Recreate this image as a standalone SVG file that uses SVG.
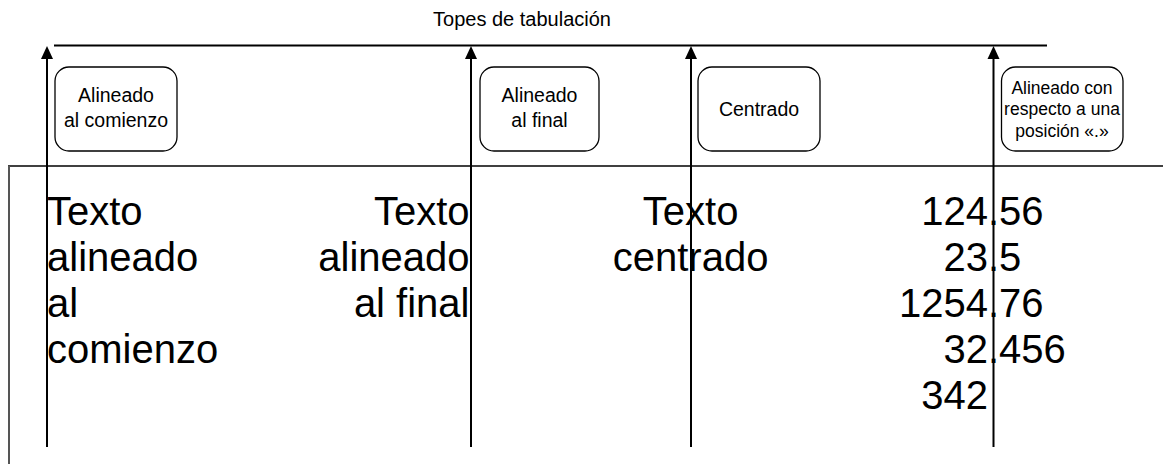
<svg xmlns="http://www.w3.org/2000/svg" width="1163" height="464" viewBox="0 0 1163 464">
<style>
text { font-family: "Liberation Sans", Arial, sans-serif; fill: #000; }
.title { font-size: 20px; }
.box { fill: #fff; stroke: #000; stroke-width: 1.3; }
.lbl { font-size: 19.5px; text-anchor: middle; }
.lbl4 { font-size: 17.5px; text-anchor: middle; }
.big { font-size: 40px; }
.arrow { stroke: #000; stroke-width: 2; fill: none; marker-end: url(#ah); }
</style>
<defs>
<marker id="ah" markerUnits="userSpaceOnUse" markerWidth="13" markerHeight="13" viewBox="0 0 13 13" refX="7" refY="6.5" orient="auto">
<path d="M0,0.5 L13,6.5 L0,12.5 z" fill="#000"/>
</marker>
</defs>
<rect width="1163" height="464" fill="#fff"/>

<text id="title" class="title" x="522" y="26" text-anchor="middle">Topes de tabulación</text>

<g id="ruler">
<line x1="54" y1="45.5" x2="1047" y2="45.5" stroke="#000" stroke-width="2"/>
<line x1="8" y1="166" x2="1163" y2="166" stroke="#000" stroke-width="1.6"/>
<line x1="9" y1="166" x2="9" y2="464" stroke="#555" stroke-width="2"/>
</g>

<g id="connectors">
<line class="arrow" x1="47" y1="447" x2="47" y2="52"/>
<line class="arrow" x1="471" y1="447" x2="471" y2="52"/>
<line class="arrow" x1="691" y1="447" x2="691" y2="52"/>
<line class="arrow" x1="993.5" y1="447" x2="993.5" y2="52"/>
</g>

<g id="node-comienzo">
<rect class="box" x="55" y="67" width="122" height="84" rx="14" ry="14"/>
<text class="lbl" x="116" y="101.5">Alineado</text>
<text class="lbl" x="116" y="126.5">al comienzo</text>
</g>

<g id="node-final">
<rect class="box" x="480" y="67" width="119" height="84" rx="14" ry="14"/>
<text class="lbl" x="539.5" y="101.5">Alineado</text>
<text class="lbl" x="539.5" y="126.5">al final</text>
</g>

<g id="node-centrado">
<rect class="box" x="698" y="67" width="122" height="84" rx="14" ry="14"/>
<text class="lbl" x="759" y="115.5">Centrado</text>
</g>

<g id="node-decimal">
<rect class="box" x="1001.5" y="67" width="121.5" height="84" rx="14" ry="14"/>
<text class="lbl4" x="1062" y="93.5">Alineado con</text>
<text class="lbl4" x="1062" y="115">respecto a una</text>
<text class="lbl4" x="1062" y="136.5">posición «.»</text>
</g>

<g id="text-comienzo">
<text class="big" x="47" y="225">Texto</text>
<text class="big" x="47" y="271">alineado</text>
<text class="big" x="47" y="317">al</text>
<text class="big" x="47" y="363">comienzo</text>
</g>

<g id="text-final">
<text class="big" x="469.5" y="225" text-anchor="end">Texto</text>
<text class="big" x="469.5" y="271" text-anchor="end">alineado</text>
<text class="big" x="469.5" y="317" text-anchor="end">al final</text>
</g>

<g id="text-centrado">
<text class="big" x="690.6" y="225" text-anchor="middle">Texto</text>
<text class="big" x="690.6" y="271" text-anchor="middle">centrado</text>
</g>

<g id="text-decimal">
<text class="big" y="225"><tspan x="988" text-anchor="end">124</tspan><tspan x="988" text-anchor="start">.56</tspan></text>
<text class="big" y="271"><tspan x="988" text-anchor="end">23</tspan><tspan x="988" text-anchor="start">.5</tspan></text>
<text class="big" y="317"><tspan x="988" text-anchor="end">1254</tspan><tspan x="988" text-anchor="start">.76</tspan></text>
<text class="big" y="363"><tspan x="988" text-anchor="end">32</tspan><tspan x="988" text-anchor="start">.456</tspan></text>
<text class="big" x="988" y="409" text-anchor="end">342</text>
</g>
</svg>
